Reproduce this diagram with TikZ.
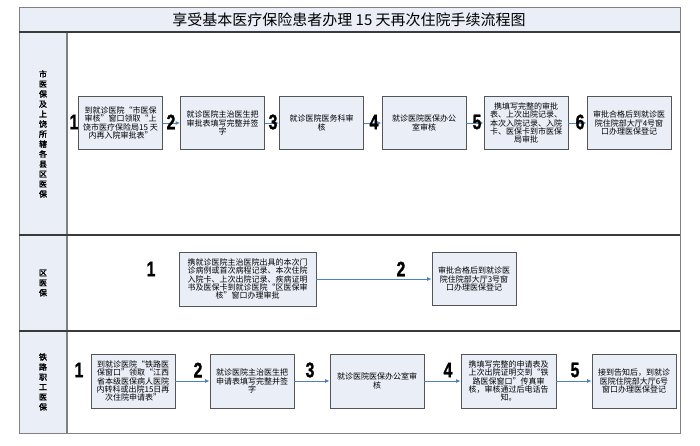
\documentclass[tikz,border=0pt]{standalone}
\usepackage{fontspec}
\setmainfont{Noto Sans CJK SC}[AutoFakeBold=2]
\newfontfamily\numfont{Liberation Sans}[BoldFeatures={FakeBold=1.5}]
\usetikzlibrary{arrows.meta}
\definecolor{boxfill}{HTML}{E9EEF7}
\definecolor{boxline}{HTML}{555555}
\definecolor{frameline}{HTML}{808080}
\definecolor{darkline}{HTML}{3A3A3A}
\definecolor{arrblue}{HTML}{4F81BD}

\begin{document}
\begin{tikzpicture}[x=1pt,y=-1pt,
  pbox/.style={draw=boxline,fill=boxfill,line width=0.8pt,minimum width=84pt,minimum height=53pt,inner sep=1pt,align=center,font=\fontsize{8}{8.4}\selectfont},
  pnum/.style={inner sep=0pt,font=\numfont\fontsize{21}{21}\selectfont\bfseries},
  parr/.style={draw=arrblue,line width=0.9pt,-{Latex[length=4.5pt,width=4pt]}},
  lanetxt/.style={align=center,font=\fontsize{8}{10}\selectfont\bfseries}]
\useasboundingbox (0,0) rectangle (700,445);
\fill[boxfill] (19,7) rectangle (680,32);
\fill[boxfill] (19,32) rectangle (67,433);
\draw[frameline,line width=1pt] (19,7) rectangle (680,433);
\draw[frameline,line width=1.2pt] (67,32) -- (67,433);
\draw[darkline,line width=1.8pt] (19,32) -- (680,32);
\draw[darkline,line width=1.3pt] (19,235) -- (680,235);
\draw[darkline,line width=1.3pt] (19,331) -- (680,331);
\node[font=\fontsize{15}{15}\selectfont] (title) at (349,20) {享受基本医疗保险患者办理 15 天再次住院手续流程图};
\node[lanetxt] (lane1) at (43,134) {市\\医\\保\\及\\上\\饶\\所\\辖\\各\\县\\区\\医\\保};
\node[lanetxt] (lane2) at (43,283) {区\\医\\保};
\node[lanetxt] (lane3) at (43,382) {铁\\路\\职\\工\\医\\保};

\node[pbox] (a1) at (120.5,123) {到就诊医院“市医保\\审核”窗口领取“上\\饶市医疗保险局15 天\\内再入院审批表”};
\node[pbox] (a2) at (222.5,123) {就诊医院主治医生把\\审批表填写完整并签\\字};
\node[pbox] (a3) at (321.5,123) {就诊医院医务科审\\核};
\node[pbox] (a4) at (424,123) {就诊医院医保办公\\室审核};
\node[pbox] (a5) at (526,123) {携填写完整的审批\\表、上次出院记录、\\本次入院记录、入院\\卡、医保卡到市医保\\局审批};
\node[pbox] (a6) at (629,123) {审批合格后到就诊医\\院住院部大厅4号窗\\口办理医保登记};
\draw[parr] (a1) -- (a2);
\draw[parr] (a2) -- (a3);
\draw[parr] (a3) -- (a4);
\draw[parr] (a4) -- (a5);
\draw[parr] (a5) -- (a6);
\node[pnum] (na1) at (74,122) {\scalebox{0.75}[1]{1}};
\node[pnum] (na2) at (171,122) {\scalebox{0.75}[1]{2}};
\node[pnum] (na3) at (273,122) {\scalebox{0.75}[1]{3}};
\node[pnum] (na4) at (374,122) {\scalebox{0.75}[1]{4}};
\node[pnum] (na5) at (477,122) {\scalebox{0.75}[1]{5}};
\node[pnum] (na6) at (580,122) {\scalebox{0.75}[1]{6}};

\node[pbox,minimum width=137pt,minimum height=54pt] (b1) at (247.5,279) {携就诊医院主治医院出具的本次门\\诊病例或首次病程记录、本次住院\\入院卡、上次出院记录、疾病证明\\书及医保卡到就诊医院“区医保审\\核”窗口办理审批};
\node[pbox] (b2) at (474,279) {审批合格后到就诊医\\院住院部大厅3号窗\\口办理医保登记};
\draw[parr] (b1) -- (b2);
\node[pnum] (nb1) at (151,269) {\scalebox{0.75}[1]{1}};
\node[pnum] (nb2) at (401,269) {\scalebox{0.75}[1]{2}};

\node[pbox,minimum height=54pt] (c1) at (133,381) {到就诊医院“铁路医\\保窗口”领取“江西\\省本级医保病人医院\\内转科或出院15日再\\次住院申请表”};
\node[pbox,minimum height=54pt] (c2) at (252,381) {就诊医院主治医生把\\申请表填写完整并签\\字};
\node[pbox,minimum width=94pt,minimum height=54pt] (c3) at (377,381) {就诊医院医保办公室审\\核};
\node[pbox,minimum width=95pt,minimum height=54pt] (c4) at (508.5,381) {携填写完整的申请表及\\上次出院证明交到“铁\\路医保窗口”传真审\\核，审核通过后电话告\\知。};
\node[pbox,minimum height=54pt] (c5) at (634,381) {接到告知后，到就诊\\医院住院部大厅6号\\窗口办理医保登记};
\draw[parr] (c1) -- (c2);
\draw[parr] (c2) -- (c3);
\draw[parr] (c3) -- (c4);
\draw[parr] (c4) -- (c5);
\node[pnum] (nc1) at (79,370) {\scalebox{0.75}[1]{1}};
\node[pnum] (nc2) at (198,370) {\scalebox{0.75}[1]{2}};
\node[pnum] (nc3) at (310,370) {\scalebox{0.75}[1]{3}};
\node[pnum] (nc4) at (448,370) {\scalebox{0.75}[1]{4}};
\node[pnum] (nc5) at (575,370) {\scalebox{0.75}[1]{5}};
\end{tikzpicture}
\end{document}
